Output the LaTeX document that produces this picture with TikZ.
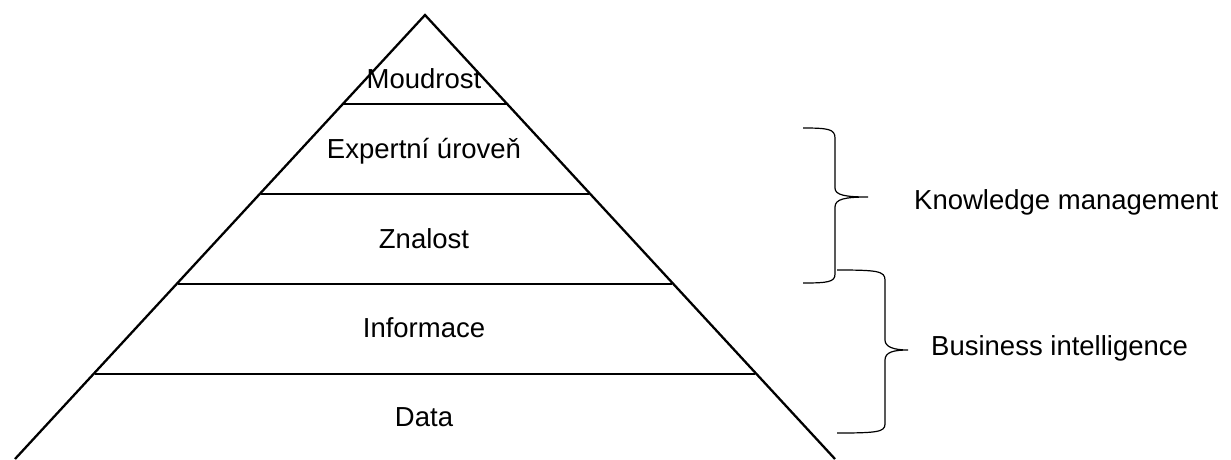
\documentclass[tikz,border=0pt]{standalone}
\usepackage{fontspec}
\setmainfont{Liberation Sans}
\begin{document}
\begin{tikzpicture}[x=1pt,y=-1pt,
  edge/.style={line width=2.3pt,black},
  bracepath/.style={line width=1.2pt,black},
  lbl/.style={font=\fontsize{27.5}{31}\selectfont,anchor=base,inner sep=0pt}]
\useasboundingbox (0,0) rectangle (1231,459);
\begin{scope}
\clip (0,0) rectangle (1231,459);
% pyramid outline
\coordinate (apex) at (425,15);
\coordinate (bl) at (15,459);
\coordinate (br) at (835,459);
\draw[edge,line join=miter] (bl) -- (apex) -- (br);
% level separators
\draw[edge] (343,104) -- (507,104);
\draw[edge] (261,194) -- (589,194);
\draw[edge] (178,284) -- (672,284);
\draw[edge] (95,374) -- (755,374);
\end{scope}
% level labels
\node[lbl] (moudrost) at (424,88) {Moudrost};
\node[lbl] (expert) at (424,158) {Expertní úroveň};
\node[lbl] (znalost) at (424,248) {Znalost};
\node[lbl] (informace) at (424,337) {Informace};
\node[lbl] (data) at (424,426) {Data};
% upper brace
\coordinate (kmtip) at (868,197);
\draw[bracepath] (803,128) .. controls (828,128) and (835,129) .. (835,138)
  -- (835,188) .. controls (835,195) and (845,197) .. (kmtip)
  .. controls (845,197) and (835,199) .. (835,207)
  -- (835,274) .. controls (835,282) and (828,283) .. (803,283);
% lower brace
\coordinate (bitip) at (908,350);
\draw[bracepath] (837,270) .. controls (877,270) and (885,271) .. (885,280)
  -- (885,340) .. controls (885,347) and (894,350) .. (bitip)
  .. controls (894,350) and (885,352) .. (885,360)
  -- (885,424) .. controls (885,432) and (877,433) .. (837,433);
% side labels
\node[lbl,anchor=base west] (km) at (914,209) {Knowledge management};
\node[lbl,anchor=base west] (bi) at (931,355) {Business intelligence};
\end{tikzpicture}
\end{document}
